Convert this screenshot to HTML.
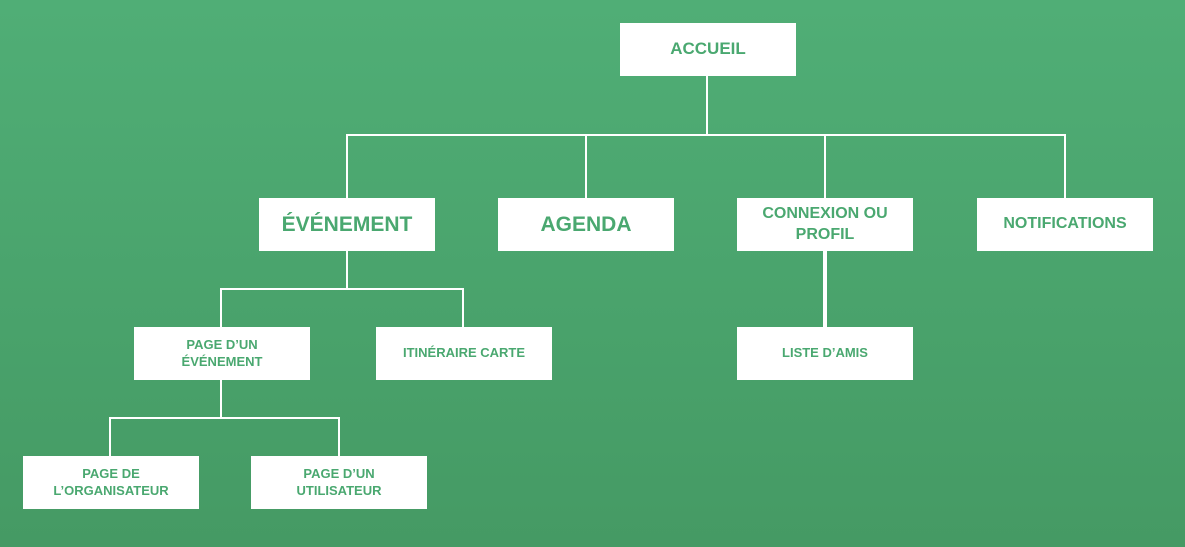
<!DOCTYPE html>
<html><head><style>
body{margin:0;width:1185px;height:547px;overflow:hidden;background:linear-gradient(180deg,#50ae76 0%,#49a26b 60%,#459a64 100%);font-family:"Liberation Sans",sans-serif;position:relative}
.b{position:absolute;background:#fff;color:#4aa870;font-weight:bold;display:flex;align-items:center;justify-content:center;text-align:center;line-height:1.3;width:176px;height:53px}
.l{position:absolute;background:#fff}
</style></head><body>
<div class="l" style="left:706px;top:76px;width:2px;height:60px"></div>
<div class="l" style="left:346px;top:134px;width:720px;height:2px"></div>
<div class="l" style="left:346px;top:134px;width:2px;height:64px"></div>
<div class="l" style="left:585px;top:134px;width:2px;height:64px"></div>
<div class="l" style="left:824px;top:134px;width:2px;height:64px"></div>
<div class="l" style="left:1064px;top:134px;width:2px;height:64px"></div>
<div class="l" style="left:346px;top:251px;width:2px;height:39px"></div>
<div class="l" style="left:220px;top:288px;width:244px;height:2px"></div>
<div class="l" style="left:220px;top:288px;width:2px;height:39px"></div>
<div class="l" style="left:462px;top:288px;width:2px;height:39px"></div>
<div class="l" style="left:823px;top:251px;width:4px;height:76px"></div>
<div class="l" style="left:220px;top:380px;width:2px;height:39px"></div>
<div class="l" style="left:109px;top:417px;width:231px;height:2px"></div>
<div class="l" style="left:109px;top:417px;width:2px;height:39px"></div>
<div class="l" style="left:338px;top:417px;width:2px;height:39px"></div>
<div class="b" style="left:620px;top:23px;font-size:17px">ACCUEIL</div>
<div class="b" style="left:259px;top:198px;font-size:21px">ÉVÉNEMENT</div>
<div class="b" style="left:498px;top:198px;font-size:21px">AGENDA</div>
<div class="b" style="left:737px;top:198px;font-size:16px">CONNEXION OU<br>PROFIL</div>
<div class="b" style="left:977px;top:198px;font-size:16px">NOTIFICATIONS</div>
<div class="b" style="left:134px;top:327px;font-size:13px">PAGE D’UN<br>ÉVÉNEMENT</div>
<div class="b" style="left:376px;top:327px;font-size:13px">ITINÉRAIRE CARTE</div>
<div class="b" style="left:737px;top:327px;font-size:13px">LISTE D’AMIS</div>
<div class="b" style="left:23px;top:456px;font-size:13px">PAGE DE<br>L’ORGANISATEUR</div>
<div class="b" style="left:251px;top:456px;font-size:13px">PAGE D’UN<br>UTILISATEUR</div>
</body></html>
